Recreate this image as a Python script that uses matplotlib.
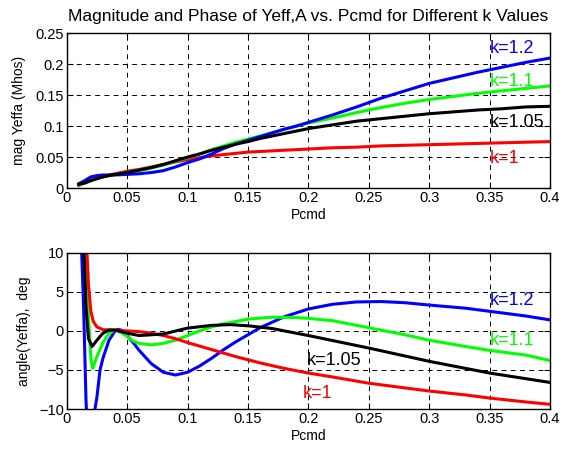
import matplotlib
matplotlib.use("Agg")
import matplotlib.pyplot as plt

plt.rcParams['font.family'] = ['Liberation Sans', 'DejaVu Sans']

# ---- magnitude data (Mhos) vs Pcmd ----
pcmd_mag = [0.01, 0.015, 0.02, 0.025, 0.03, 0.035, 0.04, 0.05, 0.06, 0.07, 0.08,
            0.09, 0.1, 0.11, 0.12, 0.13, 0.14, 0.15, 0.16, 0.17, 0.18, 0.19, 0.2,
            0.22, 0.24, 0.26, 0.28, 0.3, 0.32, 0.34, 0.36, 0.38, 0.4]
mag_k1 = [0.004, 0.009, 0.013, 0.016, 0.018, 0.021, 0.023, 0.027, 0.030, 0.034, 0.038,
          0.042, 0.046, 0.049, 0.052, 0.054, 0.056, 0.058, 0.059, 0.060, 0.061, 0.062, 0.063,
          0.065, 0.066, 0.068, 0.069, 0.070, 0.071, 0.072, 0.073, 0.074, 0.075]
mag_k105 = [0.006, 0.008, 0.012, 0.015, 0.018, 0.020, 0.022, 0.025, 0.029, 0.033, 0.038,
            0.044, 0.050, 0.055, 0.061, 0.066, 0.071, 0.075, 0.080, 0.084, 0.088, 0.092, 0.096,
            0.102, 0.108, 0.112, 0.116, 0.120, 0.123, 0.126, 0.128, 0.131, 0.132]
mag_k11 = [0.005, 0.008, 0.012, 0.015, 0.018, 0.020, 0.022, 0.025, 0.028, 0.032, 0.037,
           0.043, 0.049, 0.055, 0.062, 0.068, 0.074, 0.079, 0.084, 0.089, 0.095, 0.100, 0.105,
           0.113, 0.122, 0.130, 0.137, 0.143, 0.148, 0.153, 0.157, 0.161, 0.165]
mag_k12 = [0.007, 0.012, 0.018, 0.020, 0.021, 0.021, 0.021, 0.022, 0.023, 0.025, 0.028,
           0.034, 0.041, 0.047, 0.055, 0.064, 0.071, 0.077, 0.083, 0.089, 0.095, 0.100, 0.106,
           0.118, 0.131, 0.145, 0.157, 0.169, 0.178, 0.187, 0.195, 0.203, 0.210]

# ---- phase data (deg) vs Pcmd ----
pcmd_ph_k1 = [0.015, 0.0168, 0.018, 0.02, 0.022, 0.025, 0.03, 0.04, 0.05, 0.06, 0.07,
              0.08, 0.09, 0.1, 0.12, 0.14, 0.16, 0.18, 0.2, 0.22, 0.25, 0.28, 0.3,
              0.33, 0.35, 0.38, 0.4]
ph_k1 = [14, 10, 6, 2.5, 1.2, 0.5, 0.15, 0.1, 0.0, -0.1, -0.3,
         -0.6, -1.0, -1.5, -2.4, -3.3, -4.1, -4.8, -5.4, -5.9, -6.7, -7.3, -7.7,
         -8.2, -8.6, -9.1, -9.4]

pcmd_ph_k105 = [0.013, 0.0143, 0.016, 0.018, 0.021, 0.025, 0.03, 0.035, 0.04, 0.045,
                0.05, 0.06, 0.08, 0.1, 0.12, 0.135, 0.15, 0.17, 0.2, 0.25, 0.3, 0.35, 0.4]
ph_k105 = [14, 10, 3, -1, -2, -1.2, -0.3, 0.1, 0.1, -0.1,
           -0.3, -0.6, -0.4, 0.35, 0.7, 0.8, 0.65, 0.3, -0.6, -2.2, -3.9, -5.4, -6.6]

pcmd_ph_k11 = [0.014, 0.016, 0.018, 0.02, 0.0215, 0.025, 0.03, 0.035, 0.04, 0.045,
               0.05, 0.055, 0.06, 0.07, 0.08, 0.09, 0.1, 0.11, 0.12, 0.13, 0.15, 0.17,
               0.19, 0.2, 0.22, 0.25, 0.28, 0.3, 0.33, 0.35, 0.38, 0.4]
ph_k11 = [14, 10, 2, -3.5, -4.8, -3.3, -1.5, -0.3, 0.1, -0.2,
          -0.7, -1.3, -1.6, -1.8, -1.6, -1.2, -0.6, 0.0, 0.5, 0.9, 1.5, 1.75,
          1.7, 1.6, 1.3, 0.4, -0.5, -1.2, -2.0, -2.5, -3.1, -3.8]

pcmd_ph_k12 = [0.011, 0.0124, 0.014, 0.016, 0.018, 0.02, 0.022, 0.0234, 0.025, 0.0276,
               0.03, 0.035, 0.04, 0.0425, 0.045, 0.05, 0.055, 0.06, 0.07, 0.08, 0.09,
               0.1, 0.11, 0.12, 0.13, 0.14, 0.15, 0.16, 0.18, 0.2, 0.22, 0.24, 0.26,
               0.28, 0.3, 0.33, 0.35, 0.38, 0.4]
ph_k12 = [16, 10, 3, -9, -15, -16, -13, -10, -8.5, -5,
          -3.5, -1.2, 0.0, 0.2, 0.1, -0.6, -1.5, -2.5, -4.2, -5.3, -5.65,
          -5.3, -4.5, -3.5, -2.4, -1.4, -0.5, 0.4, 1.8, 2.8, 3.4, 3.7, 3.75,
          3.6, 3.3, 2.9, 2.5, 1.9, 1.4]

k_labels = ['k=1', 'k=1.05', 'k=1.1', 'k=1.2']
colors = ['#ff0000', '#000000', '#00ff00', '#0000ff']

x_ticks = [0, 0.05, 0.1, 0.15, 0.2, 0.25, 0.3, 0.35, 0.4]
x_ticklabels = ['0', '0.05', '0.1', '0.15', '0.2', '0.25', '0.3', '0.35', '0.4']
mag_ticks = [0, 0.05, 0.1, 0.15, 0.2, 0.25]
mag_ticklabels = ['0', '0.05', '0.1', '0.15', '0.2', '0.25']
ph_ticks = [-10, -5, 0, 5, 10]

fig = plt.figure(figsize=(5.72, 4.54), dpi=100)
ax1 = fig.add_axes([0.1166, 0.5859, 0.845, 0.3408])
ax2 = fig.add_axes([0.1166, 0.0991, 0.845, 0.3443])

lw = 2.2
ax1.plot(pcmd_mag, mag_k1, color=colors[0], lw=lw)
ax1.plot(pcmd_mag, mag_k11, color=colors[2], lw=lw)
ax1.plot(pcmd_mag, mag_k12, color=colors[3], lw=lw)
ax1.plot(pcmd_mag, mag_k105, color=colors[1], lw=lw)

ax2.plot(pcmd_ph_k12, ph_k12, color=colors[3], lw=lw)
ax2.plot(pcmd_ph_k11, ph_k11, color=colors[2], lw=lw)
ax2.plot(pcmd_ph_k1, ph_k1, color=colors[0], lw=lw)
ax2.plot(pcmd_ph_k105, ph_k105, color=colors[1], lw=lw)

tick_fs = 10.5
label_fs = 10
for ax in (ax1, ax2):
    ax.set_xlim(0, 0.4)
    ax.set_xticks(x_ticks)
    ax.set_xticklabels(x_ticklabels)
    ax.grid(True, color='black', linestyle=(0, (5, 4.5)), linewidth=0.7)
    ax.tick_params(direction='in', length=4, labelsize=tick_fs, pad=2,
                   colors='black', top=True, right=True)
    for s in ax.spines.values():
        s.set_linewidth(1.0)
    ax.set_xlabel('Pcmd', fontsize=label_fs, labelpad=2.5)

ax1.set_ylim(0, 0.25)
ax1.set_yticks(mag_ticks)
ax1.set_yticklabels(mag_ticklabels)
ax1.set_ylabel('mag Yeffa (Mhos)', fontsize=label_fs, labelpad=7)
ax1.set_title('Magnitude and Phase of Yeff,A vs. Pcmd for Different k Values',
              fontsize=12.5, pad=9)

ax2.set_ylim(-10, 10)
ax2.set_yticks(ph_ticks)
ax2.set_ylabel('angle(Yeffa),  deg', fontsize=label_fs, labelpad=6)

fs = 13
ax1.text(0.3505, 0.2186, k_labels[3], color=colors[3], fontsize=fs, va='baseline')
ax1.text(0.3505, 0.1648, k_labels[2], color=colors[2], fontsize=fs, va='baseline')
ax1.text(0.3505, 0.0991, k_labels[1], color=colors[1], fontsize=fs, va='baseline')
ax1.text(0.3505, 0.0399, k_labels[0], color=colors[0], fontsize=fs, va='baseline')

ax2.text(0.3505, 3.3, k_labels[3], color=colors[3], fontsize=fs, va='baseline')
ax2.text(0.3505, -1.8, k_labels[2], color=colors[2], fontsize=fs, va='baseline')
ax2.text(0.199, -4.4, k_labels[1], color=colors[1], fontsize=fs, va='baseline')
ax2.text(0.195, -8.6, k_labels[0], color=colors[0], fontsize=fs, va='baseline')

fig.savefig('out.png', dpi=100)
